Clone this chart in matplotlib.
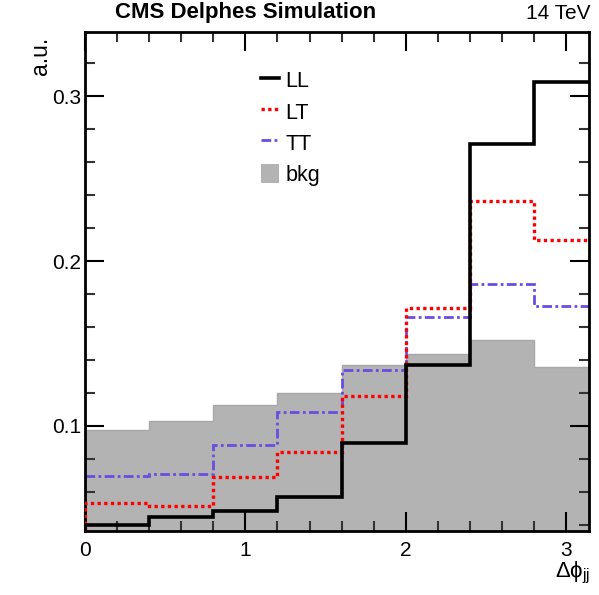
import numpy as np
import matplotlib
matplotlib.use("Agg")
import matplotlib.pyplot as plt
from matplotlib.ticker import MultipleLocator

plt.rcParams['font.family'] = ['Liberation Sans', 'DejaVu Sans']
plt.rcParams['mathtext.fontset'] = 'custom'
plt.rcParams['mathtext.rm'] = 'Liberation Sans'
plt.rcParams['mathtext.it'] = 'Liberation Sans:italic'

# bin edges in delta phi (last bin is cut at pi by the axis)
edges = [0.0, 0.4, 0.8, 1.2, 1.6, 2.0, 2.4, 2.8, 3.2]
ll  = [0.040, 0.0444, 0.0482, 0.0566, 0.0899, 0.1369, 0.2711, 0.3087]
lt  = [0.0529, 0.0511, 0.0692, 0.0844, 0.1180, 0.1713, 0.2364, 0.2127]
tt  = [0.0697, 0.0711, 0.0884, 0.1087, 0.1338, 0.1662, 0.1860, 0.1725]
bkg = [0.0974, 0.1030, 0.1126, 0.1202, 0.1370, 0.1438, 0.1523, 0.1358]

fig = plt.figure(figsize=(5.99, 5.95), dpi=100)
ax = fig.add_axes([0.142, 0.107, 0.841, 0.839])

ax.stairs(bkg, edges, fill=True, color='#b3b3b3', baseline=0, label='bkg', zorder=1)
ax.stairs(bkg, edges, color='#a8a8a8', lw=1, baseline=None, zorder=1)
ax.stairs(ll, edges, color='black', lw=2.6, label='LL', zorder=4)
ax.stairs(lt, edges, color='#ff0000', lw=2.4, ls=(0, (1, 1)), label='LT', zorder=3)
ax.stairs(tt, edges, color='#6a4de0', lw=2.0, ls=(0, (3.5, 1.2, 1, 1.2)), label='TT', zorder=2)

ax.set_xlim(0, np.pi)
ax.set_ylim(0.036, 0.339)

ax.xaxis.set_major_locator(MultipleLocator(1))
ax.xaxis.set_minor_locator(MultipleLocator(0.2))
ax.yaxis.set_major_locator(MultipleLocator(0.1))
ax.yaxis.set_minor_locator(MultipleLocator(0.02))
ax.xaxis.set_major_formatter(matplotlib.ticker.FuncFormatter(lambda v, p: '%g' % v))
ax.yaxis.set_major_formatter(matplotlib.ticker.FuncFormatter(lambda v, p: '%g' % v))
ax.tick_params(which='both', direction='in', top=True, right=True, labelsize=15, width=1.5)
ax.tick_params(axis='y', pad=3)
ax.tick_params(axis='x', pad=7)
ax.tick_params(which='major', length=14)
ax.tick_params(which='minor', length=7, color='#333333')
for s in ax.spines.values():
    s.set_linewidth(2)

h, l = ax.get_legend_handles_labels()
order = [l.index(k) for k in ['LL', 'LT', 'TT', 'bkg']]
ax.legend([h[i] for i in order], [l[i] for i in order], loc='upper left',
          bbox_to_anchor=(0.31, 0.962), frameon=False, fontsize=15.5,
          handlelength=0.85, handleheight=1.0, handletextpad=0.3, labelspacing=0.42)

fig.text(0.192, 0.962, 'CMS Delphes Simulation', fontsize=16, fontweight='bold', va='bottom')
fig.text(0.985, 0.962, '14 TeV', fontsize=15, ha='right', va='bottom')
fig.text(0.067, 0.938, 'a.u.', fontsize=16.5, rotation=90, ha='center', va='top')
fig.text(0.985, 0.015, r'$\mathregular{\Delta\phi_{jj}}$', fontsize=16, ha='right', va='bottom')

fig.savefig('out.png', dpi=100)
